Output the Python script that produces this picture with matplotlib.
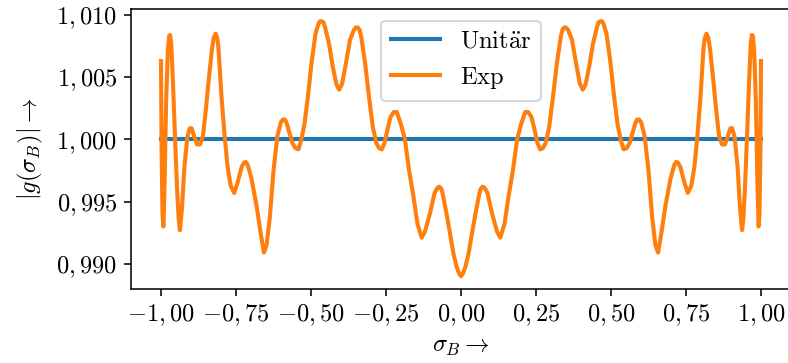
import numpy as np
import matplotlib
matplotlib.use('Agg')
import matplotlib.pyplot as plt

# %% SETTINGS
plt.rcParams['mathtext.fontset'] = 'cm'
plt.rcParams['font.family'] = 'serif'
plt.rcParams['font.serif'] = ['cmr10', 'DejaVu Serif']
plt.rcParams['axes.unicode_minus'] = False
plt.rcParams['font.size'] = 12.6
plt.rcParams['lines.linewidth'] = 2.1

# %% DATA
sigma_unit = [-1.0, 1.0]
g_unit = [1.0, 1.0]

sigma_exp = [
    -1.000, -0.998, -0.995, -0.992, -0.988, -0.983, -0.977, -0.973, -0.970, -0.966,
    -0.960, -0.953, -0.946, -0.941, -0.937, -0.930, -0.922, -0.912, -0.904, -0.898,
    -0.890, -0.880, -0.870, -0.860, -0.850, -0.840, -0.830, -0.824, -0.818, -0.812, -0.808, -0.798,
    -0.788, -0.778, -0.768, -0.756, -0.745, -0.731, -0.724, -0.718, -0.712, -0.708, -0.698, -0.681,
    -0.668, -0.657, -0.648, -0.637, -0.625, -0.612, -0.600, -0.593, -0.587, -0.581, -0.575, -0.562,
    -0.552, -0.542, -0.532, -0.522, -0.510, -0.498, -0.485, -0.475, -0.470, -0.464, -0.458, -0.453,
    -0.440, -0.427, -0.415, -0.406, -0.396, -0.383, -0.370, -0.357, -0.350, -0.344, -0.338, -0.333,
    -0.320, -0.307, -0.294, -0.282, -0.273, -0.264, -0.255, -0.245, -0.235, -0.224,
    -0.214, -0.200, -0.187, -0.173, -0.159, -0.145, -0.131, -0.120, -0.103, -0.088,
    -0.079, -0.072, -0.065, -0.060, -0.048, -0.037, -0.025, -0.014, -0.006, 0.000, 0.006,
    0.014, 0.025, 0.037, 0.048, 0.060, 0.065, 0.072, 0.079, 0.088, 0.103, 0.120, 0.131,
    0.145, 0.159, 0.173, 0.187, 0.200, 0.214, 0.224, 0.235, 0.245, 0.255,
    0.264, 0.273, 0.282, 0.294, 0.307, 0.320, 0.333, 0.338, 0.344, 0.350, 0.357, 0.370,
    0.383, 0.396, 0.406, 0.415, 0.427, 0.440, 0.453, 0.458, 0.464, 0.470, 0.475, 0.485,
    0.498, 0.510, 0.522, 0.532, 0.542, 0.552, 0.562, 0.575, 0.581, 0.587, 0.593, 0.600,
    0.612, 0.625, 0.637, 0.648, 0.657, 0.668, 0.681, 0.698, 0.708, 0.712, 0.718, 0.724,
    0.731, 0.745, 0.756, 0.768, 0.778, 0.788, 0.798, 0.808, 0.812, 0.818, 0.824, 0.830,
    0.840, 0.850, 0.860, 0.870, 0.880, 0.890, 0.898, 0.904, 0.912, 0.922,
    0.930, 0.937, 0.941, 0.946, 0.953, 0.960, 0.966, 0.970, 0.973, 0.977,
    0.983, 0.988, 0.992, 0.995, 0.998, 1.000,
]
g_exp = [
    1.0063, 0.9990, 0.9940, 0.9930, 0.9965, 1.0030, 1.0072, 1.0083, 1.0084, 1.0078,
    1.0045, 1.0000, 0.9958, 0.9936, 0.9927, 0.9945, 0.9978, 1.0002, 1.0009, 1.0009,
    1.0003, 0.9996, 0.9996, 1.0003, 1.0025, 1.0050, 1.0073, 1.0082, 1.0085, 1.0081, 1.0072, 1.0033,
    1.0003, 0.9978, 0.9963, 0.9957, 0.9965, 0.9978, 0.9981, 0.9982, 0.9980, 0.9977, 0.9968, 0.9946,
    0.9925, 0.9909, 0.9915, 0.9938, 0.9975, 1.0003, 1.0014, 1.0016, 1.0016, 1.0013, 1.0008, 0.9997,
    0.9993, 0.9992, 1.0000, 1.0012, 1.0035, 1.0062, 1.0085, 1.0093, 1.0095, 1.0095, 1.0094, 1.0090,
    1.0077, 1.0058, 1.0044, 1.0040, 1.0045, 1.0062, 1.0080, 1.0088, 1.0090, 1.0090, 1.0088, 1.0083,
    1.0062, 1.0035, 1.0010, 0.9997, 0.9993, 0.9992, 0.9997, 1.0008, 1.0018, 1.0022,
    1.0022, 1.0012, 1.0000, 0.9975, 0.9955, 0.9932, 0.9921, 0.9926, 0.9941, 0.9957,
    0.9961, 0.9962, 0.9960, 0.9955, 0.9940, 0.9925, 0.9908, 0.9897, 0.9892, 0.9890, 0.9892,
    0.9897, 0.9908, 0.9925, 0.9940, 0.9955, 0.9960, 0.9962, 0.9961, 0.9957, 0.9941, 0.9926, 0.9921,
    0.9932, 0.9955, 0.9975, 1.0000, 1.0012, 1.0022, 1.0022, 1.0018, 1.0008, 0.9997,
    0.9992, 0.9993, 0.9997, 1.0010, 1.0035, 1.0062, 1.0083, 1.0088, 1.0090, 1.0090, 1.0088, 1.0080,
    1.0062, 1.0045, 1.0040, 1.0044, 1.0058, 1.0077, 1.0090, 1.0094, 1.0095, 1.0095, 1.0093, 1.0085,
    1.0062, 1.0035, 1.0012, 1.0000, 0.9992, 0.9993, 0.9997, 1.0008, 1.0013, 1.0016, 1.0016, 1.0014,
    1.0003, 0.9975, 0.9938, 0.9915, 0.9909, 0.9925, 0.9946, 0.9968, 0.9977, 0.9980, 0.9982, 0.9981,
    0.9978, 0.9965, 0.9957, 0.9963, 0.9978, 1.0003, 1.0033, 1.0072, 1.0081, 1.0085, 1.0082, 1.0073,
    1.0050, 1.0025, 1.0003, 0.9996, 0.9996, 1.0003, 1.0009, 1.0009, 1.0002, 0.9978,
    0.9945, 0.9927, 0.9936, 0.9958, 1.0000, 1.0045, 1.0078, 1.0084, 1.0083, 1.0072,
    1.0030, 0.9965, 0.9930, 0.9940, 0.9990, 1.0063,
]

x_ticks = [-1.0, -0.75, -0.5, -0.25, 0.0, 0.25, 0.5, 0.75, 1.0]
x_tick_labels = [r'$-1,00$', r'$-0,75$', r'$-0,50$', r'$-0,25$', r'$0,00$',
                 r'$0,25$', r'$0,50$', r'$0,75$', r'$1,00$']
y_ticks = [0.990, 0.995, 1.000, 1.005, 1.010]
y_tick_labels = [r'$0,990$', r'$0,995$', r'$1,000$', r'$1,005$', r'$1,010$']

# %% PLOT
fig = plt.figure(figsize=(788 / 140, 363 / 140), dpi=140)
ax = fig.add_axes([131 / 788, (363 - 289) / 363, 660 / 788, 280.5 / 363])

ax.plot(sigma_unit, g_unit, color='#1f77b4', label=r'$\mathrm{Unit\ddot{a}r}$')
ax.plot(sigma_exp, g_exp, color='#ff7f0e', label=r'$\mathrm{Exp}$',
        solid_joinstyle='round')

ax.set_xticks(x_ticks)
ax.set_xticklabels(x_tick_labels)
ax.set_yticks(y_ticks)
ax.set_yticklabels(y_tick_labels)
ax.set_xlim(-1.1, 1.1)

ax.set_xlabel(r'$\sigma_B \rightarrow$', labelpad=4)
ax.set_ylabel(r'$|g(\sigma_B)| \rightarrow$', labelpad=6)
ax.legend(loc='upper center')

fig.savefig('out.png', dpi=140)
